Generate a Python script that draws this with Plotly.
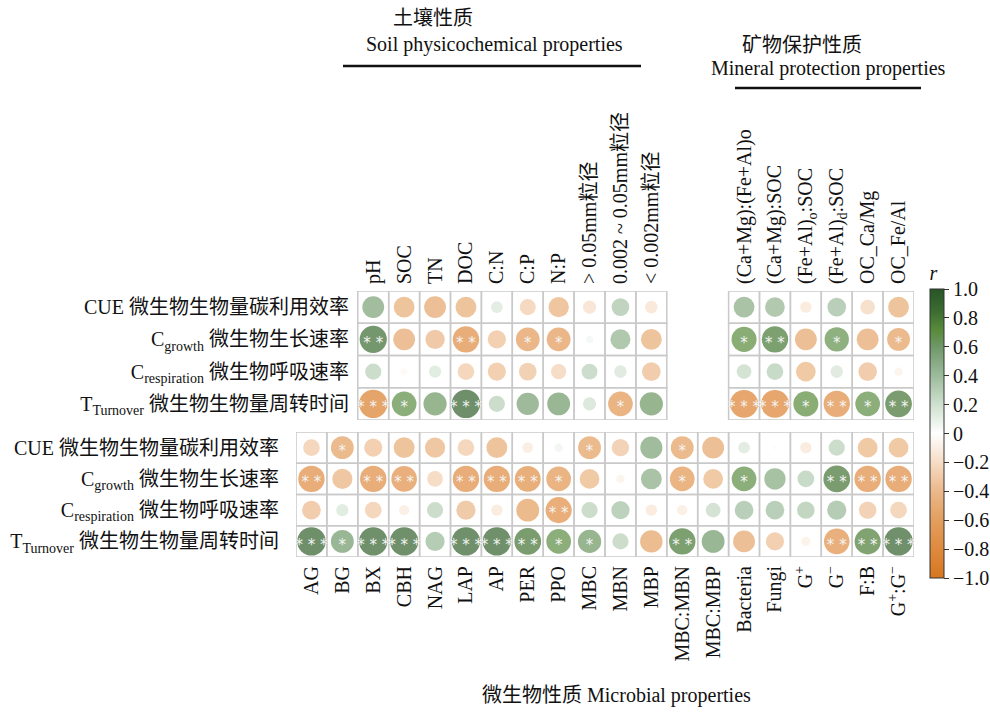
import numpy as np
import plotly.graph_objects as go

# ---- labels ----
row_labels = [
    "CUE 微生物生物量碳利用效率",
    "C<sub>growth</sub> 微生物生长速率",
    "C<sub>respiration</sub> 微生物呼吸速率",
    "T<sub>Turnover</sub> 微生物生物量周转时间",
]

micro_cols = ["AG", "BG", "BX", "CBH", "NAG", "LAP", "AP", "PER", "PPO", "MBC",
              "MBN", "MBP", "MBC:MBN", "MBC:MBP", "Bacteria", "Fungi",
              "G<sup>+</sup>", "G<sup>−</sup>", "F:B", "G<sup>+</sup>:G<sup>−</sup>"]

soil_cols = ["pH", "SOC", "TN", "DOC", "C:N", "C:P", "N:P",
             "&gt; 0.05mm粒径", "0.002 ~ 0.05mm粒径", "&lt; 0.002mm粒径"]

mineral_cols = ["(Ca+Mg):(Fe+Al)o", "(Ca+Mg):SOC", "(Fe+Al)<sub>o</sub>:SOC",
                "(Fe+Al)<sub>d</sub>:SOC", "OC_Ca/Mg", "OC_Fe/Al"]

# ---- correlation coefficients (rows: CUE, Cgrowth, Crespiration, Tturnover) ----
soil_r = [
    [0.55, -0.50, -0.55, -0.50, 0.16, -0.30, -0.48, -0.20, 0.36, -0.18],
    [0.85, -0.55, -0.43, -0.80, -0.38, -0.65, -0.65, 0.06, 0.46, -0.50],
    [0.30, -0.05, 0.17, -0.32, -0.38, -0.36, -0.27, 0.29, 0.18, -0.40],
    [-0.92, 0.70, 0.62, 0.93, 0.30, 0.57, 0.60, 0.20, -0.70, 0.62],
]
soil_sig = [
    ["", "", "", "", "", "", "", "", "", ""],
    ["**", "", "", "**", "", "*", "*", "", "", ""],
    ["", "", "", "", "", "", "", "", "", ""],
    ["***", "*", "", "***", "", "", "", "", "*", ""],
]

mineral_r = [
    [0.50, 0.45, -0.15, 0.40, -0.25, -0.50],
    [0.72, 0.80, -0.55, 0.68, -0.55, -0.60],
    [0.25, 0.32, -0.45, 0.18, -0.40, -0.08],
    [-0.90, -0.90, 0.72, -0.80, 0.70, 0.82],
]
mineral_sig = [
    ["", "", "", "", "", ""],
    ["*", "**", "", "*", "", "*"],
    ["", "", "", "", "", ""],
    ["***", "***", "*", "**", "*", "**"],
]

micro_r = [
    [-0.32, -0.60, -0.38, -0.50, -0.47, -0.32, -0.50, -0.13, 0.08, -0.60,
     -0.35, 0.56, -0.60, -0.55, 0.16, 0.02, -0.15, 0.30, -0.45, -0.45],
    [-0.80, -0.47, -0.80, -0.75, -0.28, -0.80, -0.80, -0.77, -0.70, -0.45,
     -0.08, 0.50, -0.70, -0.45, 0.70, 0.52, 0.32, 0.82, -0.80, -0.80],
    [-0.40, 0.17, -0.32, -0.12, 0.30, -0.42, -0.15, -0.60, -0.78, 0.30,
     0.38, -0.15, -0.12, 0.25, 0.40, 0.40, 0.35, 0.42, -0.35, -0.32],
    [0.93, 0.60, 0.92, 0.92, 0.42, 0.92, 0.92, 0.82, 0.70, 0.62,
     0.30, -0.58, 0.80, 0.60, -0.55, -0.38, -0.10, -0.75, 0.78, 0.92],
]
micro_sig = [
    ["", "*", "", "", "", "", "", "", "", "*", "", "", "*", "", "", "", "", "", "", ""],
    ["**", "", "**", "**", "", "**", "**", "**", "*", "", "", "", "*", "", "*", "", "", "**", "**", "**"],
    ["", "", "", "", "", "", "", "", "**", "", "", "", "", "", "", "", "", "", "", ""],
    ["***", "*", "***", "***", "", "***", "***", "**", "*", "*", "", "", "**", "", "", "", "", "**", "**", "***"],
]

# column slots of the upper panels on the shared 20-column grid
soil_pos = list(range(2, 12))
mineral_pos = list(range(14, 20))

# ---- geometry (pixels) ----
W, H = 990, 712
GRID_L, GRID_R = 296, 914
TOP_T, TOP_B = 291, 420
BOT_T, BOT_B = 432, 557
TOP_PANEL_L = 358
MAX_D = 29.5

SERIF = "Liberation Serif, 'Times New Roman', 'Noto Sans CJK SC', serif"
GRID_COLOR = "#c9c9c9"


def fx(p):
    return p / W


def fy(p):
    return 1 - p / H


colorscale = [
    [0.00, "#d7761f"],
    [0.10, "#de8a3e"],
    [0.20, "#e39e5e"],
    [0.30, "#ebb88a"],
    [0.40, "#f6dcc4"],
    [0.50, "#ffffff"],
    [0.60, "#cfe0cf"],
    [0.70, "#9cbb9b"],
    [0.80, "#6f9868"],
    [0.86, "#578a3a"],
    [0.925, "#3b6b30"],
    [1.00, "#285526"],
]


def cells(values, sigs, cols):
    xs, ys, cs, ss = [], [], [], []
    sx, sy, st = [], [], []
    for i, row in enumerate(values):
        for j, v in enumerate(row):
            xs.append(cols[j])
            ys.append(i)
            cs.append(v)
            ss.append(MAX_D * np.sqrt(abs(v)))
            if sigs[i][j]:
                sx.append(cols[j])
                sy.append(i + 0.14)
                st.append(" ".join(sigs[i][j]))
    return xs, ys, cs, ss, sx, sy, st


fig = go.Figure()

cbar = dict(
    x=fx(930), xanchor="left", xpad=0, ypad=0,
    y=fy(420), yanchor="middle", len=316 / H, lenmode="fraction",
    thickness=14, outlinewidth=1, outlinecolor="#333333",
    ticks="outside", ticklen=5, tickcolor="#333333",
    tickvals=[1, 0.8, 0.6, 0.4, 0.2, 0, -0.2, -0.4, -0.6, -0.8, -1],
    ticktext=["1.0", "0.8", "0.6", "0.4", "0.2", "0", "−0.2", "−0.4", "−0.6", "−0.8", "−1.0"],
    tickfont=dict(family=SERIF, size=20, color="#111111"),
    title=dict(text="<i>r</i>", side="top", font=dict(family=SERIF, size=20, color="#111111")),
)

panels = [
    (soil_r, soil_sig, soil_pos, "x2", "y", False),
    (mineral_r, mineral_sig, mineral_pos, "x2", "y", False),
    (micro_r, micro_sig, list(range(20)), "x", "y2", True),
]

for vals, sigs, cols, xa, ya, show in panels:
    xs, ys, cs, ss, sx, sy, st = cells(vals, sigs, cols)
    # cell borders
    for x in cols:
        for y in range(len(vals)):
            fig.add_shape(type="rect", xref=xa, yref=ya,
                          x0=x - 0.5, x1=x + 0.5, y0=y - 0.5, y1=y + 0.5,
                          line=dict(color=GRID_COLOR, width=1.5), layer="below")
    fig.add_trace(go.Scatter(
        x=xs, y=ys, xaxis=xa, yaxis=ya, mode="markers",
        marker=dict(size=ss, color=cs, colorscale=colorscale, cmin=-1, cmax=1,
                    line=dict(width=0), showscale=show,
                    colorbar=cbar if show else None),
        hoverinfo="skip", showlegend=False,
    ))
    # significance stars
    fig.add_trace(go.Scatter(
        x=sx, y=sy, xaxis=xa, yaxis=ya, mode="text",
        text=st, textposition="middle center",
        textfont=dict(family="DejaVu Sans", size=15, color="#f4f4f4"),
        hoverinfo="skip", showlegend=False,
    ))

axis_font = dict(family=SERIF, size=20, color="#111111")

fig.update_layout(
    template="none",
    width=W, height=H,
    margin=dict(l=0, r=0, t=0, b=0),
    paper_bgcolor="white", plot_bgcolor="rgba(0,0,0,0)",
    showlegend=False,
    xaxis=dict(domain=[fx(GRID_L), fx(GRID_R)], anchor="y2", range=[-0.5, 19.5],
               tickmode="array", tickvals=list(range(20)), ticktext=micro_cols,
               tickangle=-90, tickfont=axis_font, ticks="", showgrid=False,
               zeroline=False, showline=False, ticklabelstandoff=4),
    xaxis2=dict(domain=[fx(GRID_L), fx(GRID_R)], anchor="y", side="top", range=[-0.5, 19.5],
                tickmode="array", tickvals=soil_pos + mineral_pos, ticktext=soil_cols + mineral_cols,
                tickangle=-90, tickfont=axis_font, ticks="", showgrid=False,
                zeroline=False, showline=False, ticklabelstandoff=6),
    yaxis=dict(domain=[fy(TOP_B), fy(TOP_T)], anchor="free", position=fx(TOP_PANEL_L),
               range=[3.5, -0.5], tickmode="array", tickvals=[0, 1, 2, 3], ticktext=row_labels,
               tickfont=axis_font, ticks="", showgrid=False, zeroline=False, showline=False,
               ticklabelstandoff=9),
    yaxis2=dict(domain=[fy(BOT_B), fy(BOT_T)], anchor="x",
                range=[3.5, -0.5], tickmode="array", tickvals=[0, 1, 2, 3], ticktext=row_labels,
                tickfont=axis_font, ticks="", showgrid=False, zeroline=False, showline=False,
                ticklabelstandoff=16),
)

# group headings
heads = [
    ("土壤性质", 433, 18),
    ("Soil physicochemical properties", 494, 45),
    ("矿物保护性质", 802, 45),
    ("Mineral protection properties", 828, 68),
    ("微生物性质 Microbial properties", 616, 695),
]
for text, x, y in heads:
    fig.add_annotation(text=text, x=fx(x), y=fy(y), xref="paper", yref="paper",
                       xanchor="center", yanchor="middle", showarrow=False,
                       font=dict(family=SERIF, size=20, color="#111111"))

for x0, x1, y in [(343, 641, 66), (735, 921, 88)]:
    fig.add_shape(type="line", xref="paper", yref="paper",
                  x0=fx(x0), x1=fx(x1), y0=fy(y), y1=fy(y),
                  line=dict(color="#111111", width=2.5))

fig.write_html("out.html")
